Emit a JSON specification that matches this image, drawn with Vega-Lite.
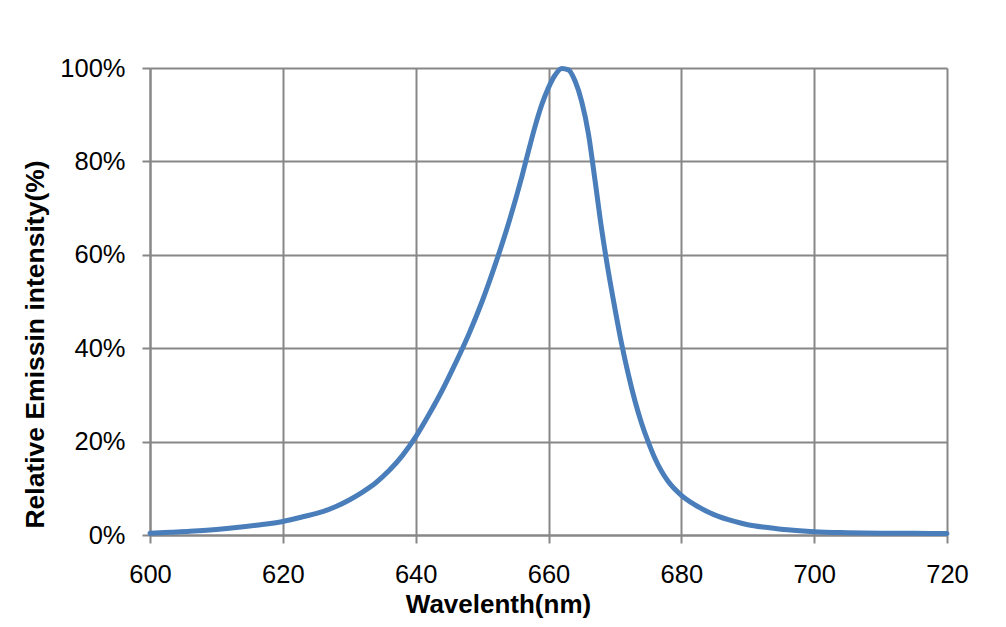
{
  "$schema": "https://vega.github.io/schema/vega-lite/v6.json",
  "width": 797,
  "height": 467,
  "autosize": "none",
  "padding": {"left": 150, "top": 68, "right": 59, "bottom": 92},
  "background": "white",
  "config": {
    "view": {"stroke": null},
    "font": "Liberation Sans"
  },
  "data": {
    "values": [
      {"wavelength": 600, "intensity": 0.4},
      {"wavelength": 603, "intensity": 0.6},
      {"wavelength": 606, "intensity": 0.8},
      {"wavelength": 610, "intensity": 1.2},
      {"wavelength": 613, "intensity": 1.6},
      {"wavelength": 616, "intensity": 2.1},
      {"wavelength": 620, "intensity": 2.9},
      {"wavelength": 623, "intensity": 3.9},
      {"wavelength": 626, "intensity": 5.0},
      {"wavelength": 628, "intensity": 6.1},
      {"wavelength": 630, "intensity": 7.5},
      {"wavelength": 632, "intensity": 9.2},
      {"wavelength": 634, "intensity": 11.2},
      {"wavelength": 636, "intensity": 13.8},
      {"wavelength": 638, "intensity": 17.0},
      {"wavelength": 640, "intensity": 21.0},
      {"wavelength": 642, "intensity": 25.8},
      {"wavelength": 644, "intensity": 31.0},
      {"wavelength": 646, "intensity": 36.8},
      {"wavelength": 648, "intensity": 43.0},
      {"wavelength": 650, "intensity": 50.0},
      {"wavelength": 652, "intensity": 58.0},
      {"wavelength": 654, "intensity": 66.8},
      {"wavelength": 656, "intensity": 76.8},
      {"wavelength": 657, "intensity": 82.3},
      {"wavelength": 658, "intensity": 87.6},
      {"wavelength": 659, "intensity": 92.2},
      {"wavelength": 660, "intensity": 95.8},
      {"wavelength": 661, "intensity": 98.5},
      {"wavelength": 662, "intensity": 99.9},
      {"wavelength": 663, "intensity": 99.6},
      {"wavelength": 664, "intensity": 97.2},
      {"wavelength": 665, "intensity": 92.8},
      {"wavelength": 666, "intensity": 86.0},
      {"wavelength": 667, "intensity": 76.0},
      {"wavelength": 668, "intensity": 65.5},
      {"wavelength": 669, "intensity": 56.5},
      {"wavelength": 670, "intensity": 48.5},
      {"wavelength": 671, "intensity": 41.0},
      {"wavelength": 672, "intensity": 34.5},
      {"wavelength": 673, "intensity": 28.8},
      {"wavelength": 674, "intensity": 24.0},
      {"wavelength": 675, "intensity": 20.0},
      {"wavelength": 676, "intensity": 16.5},
      {"wavelength": 677, "intensity": 13.7},
      {"wavelength": 678, "intensity": 11.5},
      {"wavelength": 680, "intensity": 8.5},
      {"wavelength": 682, "intensity": 6.5},
      {"wavelength": 685, "intensity": 4.3},
      {"wavelength": 688, "intensity": 2.9},
      {"wavelength": 690, "intensity": 2.2},
      {"wavelength": 693, "intensity": 1.6},
      {"wavelength": 696, "intensity": 1.1},
      {"wavelength": 700, "intensity": 0.7},
      {"wavelength": 705, "intensity": 0.5},
      {"wavelength": 710, "intensity": 0.4},
      {"wavelength": 715, "intensity": 0.35},
      {"wavelength": 720, "intensity": 0.3}
    ]
  },
  "mark": {"type": "line", "interpolate": "monotone", "color": "#4A7EBB", "strokeWidth": 5, "strokeCap": "round", "strokeJoin": "round"},
  "encoding": {
    "x": {
      "field": "wavelength",
      "type": "quantitative",
      "scale": {"domain": [600, 720], "nice": false, "zero": false},
      "axis": {
        "values": [600, 620, 640, 660, 680, 700, 720],
        "title": "Wavelenth(nm)",
        "titleFont": "Liberation Sans",
        "titleFontSize": 26,
        "titleFontWeight": "bold",
        "titleColor": "black",
        "titleX": 348,
        "titleY": 77,
        "titleAlign": "center",
        "titleBaseline": "alphabetic",
        "labelFont": "Liberation Sans",
        "labelFontSize": 25.5,
        "labelColor": "black",
        "labelPadding": 19,
        "labelFlush": false,
        "tickSize": 8,
        "tickColor": "#878787",
        "tickWidth": 2,
        "domainColor": "#878787",
        "domainWidth": 2,
        "grid": true,
        "gridColor": "#878787",
        "gridWidth": 2
      }
    },
    "y": {
      "field": "intensity",
      "type": "quantitative",
      "scale": {"domain": [0, 100], "nice": false},
      "axis": {
        "values": [0, 20, 40, 60, 80, 100],
        "labelExpr": "datum.value + '%'",
        "title": "Relative Emissin intensity(%)",
        "titleFont": "Liberation Sans",
        "titleFontSize": 26.5,
        "titleFontWeight": "bold",
        "titleColor": "black",
        "titleAngle": -90,
        "titleX": -107,
        "titleY": 276,
        "titleAlign": "center",
        "titleBaseline": "alphabetic",
        "labelFont": "Liberation Sans",
        "labelFontSize": 25.5,
        "labelColor": "black",
        "labelPadding": 17,
        "labelFlush": false,
        "tickSize": 8,
        "tickColor": "#878787",
        "tickWidth": 2,
        "domainColor": "#878787",
        "domainWidth": 2,
        "grid": true,
        "gridColor": "#878787",
        "gridWidth": 2
      }
    }
  }
}
